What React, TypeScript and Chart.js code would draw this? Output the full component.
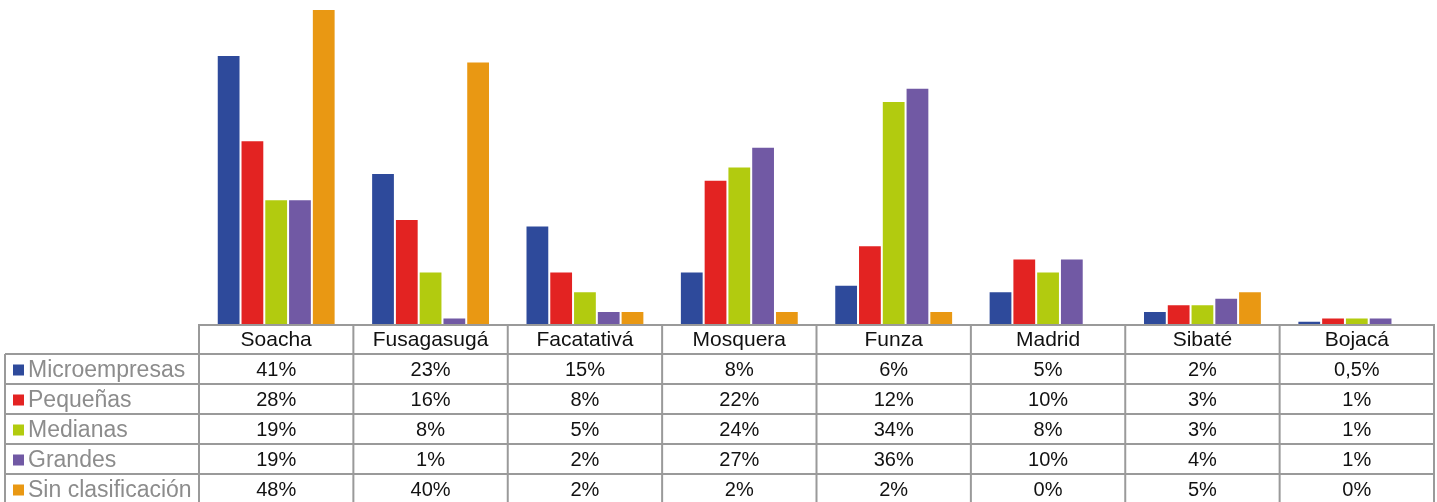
import React, { useEffect, useRef } from "react";
import { Chart, registerables } from "chart.js";

Chart.register(...registerables);

const categories = ["Soacha", "Fusagasugá", "Facatativá", "Mosquera", "Funza", "Madrid", "Sibaté", "Bojacá"];
const seriesNames = ["Microempresas", "Pequeñas", "Medianas", "Grandes", "Sin clasificación"];
const microempresas = [41, 23, 15, 8, 6, 5, 2, 0.5];
const pequenas = [28, 16, 8, 22, 12, 10, 3, 1];
const medianas = [19, 8, 5, 24, 34, 8, 3, 1];
const grandes = [19, 1, 2, 27, 36, 10, 4, 1];
const sinClasificacion = [48, 40, 2, 2, 2, 0, 5, 0];
const colors = ["#2E4A9B", "#E32322", "#B2CB0F", "#7159A4", "#E99813"];

const fmt = (v: number) => String(v).replace(".", ",") + "%";

const tablePlugin = {
  id: "dataTable",
  afterDraw(chart: any) {
    const ctx = chart.ctx;
    const area = chart.chartArea;
    const x = chart.scales.x;
    const n = categories.length;
    const colW = (area.right - area.left) / n;
    const top = area.bottom;
    const rowH = 30;
    const legendLeft = 5;
    const series = chart.data.datasets;
    ctx.save();
    ctx.strokeStyle = "#9a9a9a";
    ctx.lineWidth = 2;
    ctx.beginPath();
    ctx.moveTo(area.left, top + 1);
    ctx.lineTo(area.right, top + 1);
    for (let r = 1; r <= series.length + 1; r++) {
      const y = top + r * rowH;
      ctx.moveTo(legendLeft, y);
      ctx.lineTo(area.right, y);
    }
    for (let c = 0; c <= n; c++) {
      const xx = area.left + c * colW;
      ctx.moveTo(xx, top);
      ctx.lineTo(xx, top + (series.length + 1) * rowH + 2);
    }
    ctx.moveTo(legendLeft, top + rowH);
    ctx.lineTo(legendLeft, top + (series.length + 1) * rowH + 2);
    ctx.stroke();

    ctx.textBaseline = "middle";
    ctx.textAlign = "center";
    ctx.fillStyle = "#111";
    ctx.font = "21px 'Liberation Sans', Arial, sans-serif";
    categories.forEach((cat, i) => {
      ctx.fillText(cat, x.getPixelForValue(i), top + rowH / 2 + 1);
    });
    ctx.font = "20px 'Liberation Sans', Arial, sans-serif";
    series.forEach((ds: any, s: number) => {
      const yc = top + (s + 1) * rowH + rowH / 2 + 1;
      ds.data.forEach((v: number, i: number) => {
        ctx.fillText(fmt(v), x.getPixelForValue(i), yc);
      });
    });
    ctx.textAlign = "left";
    series.forEach((ds: any, s: number) => {
      const yc = top + (s + 1) * rowH + rowH / 2 + 1;
      ctx.fillStyle = ds.backgroundColor;
      ctx.fillRect(13, yc - 5.5, 11, 11);
      ctx.fillStyle = "#8c8c8c";
      ctx.font = "23px 'Liberation Sans', Arial, sans-serif";
      ctx.fillText(ds.label, 28, yc + 1);
    });
    ctx.restore();
  },
};

export default function App() {
  const ref = useRef<HTMLCanvasElement>(null);
  useEffect(() => {
    document.body.style.margin = "0";
    const values = [microempresas, pequenas, medianas, grandes, sinClasificacion];
    const chart = new Chart(ref.current!, {
      type: "bar",
      data: {
        labels: categories,
        datasets: seriesNames.map((name, i) => ({
          label: name,
          data: values[i],
          backgroundColor: colors[i],
          borderColor: "rgba(255,255,255,0.3)",
          borderWidth: 1,
          barPercentage: 1,
          categoryPercentage: 0.77,
        })),
      },
      options: {
        animation: false,
        responsive: false,
        devicePixelRatio: 1,
        layout: { padding: { left: 199, right: 3, top: 9, bottom: 178 } },
        plugins: { legend: { display: false }, tooltip: { enabled: false } },
        scales: {
          x: { display: false },
          y: { display: false, min: 0, max: 48 },
        },
      },
      plugins: [tablePlugin],
    });
    return () => chart.destroy();
  }, []);
  return (
    <div style={{ width: 1437, height: 502 }}>
      <canvas ref={ref} width={1437} height={502} />
    </div>
  );
}
